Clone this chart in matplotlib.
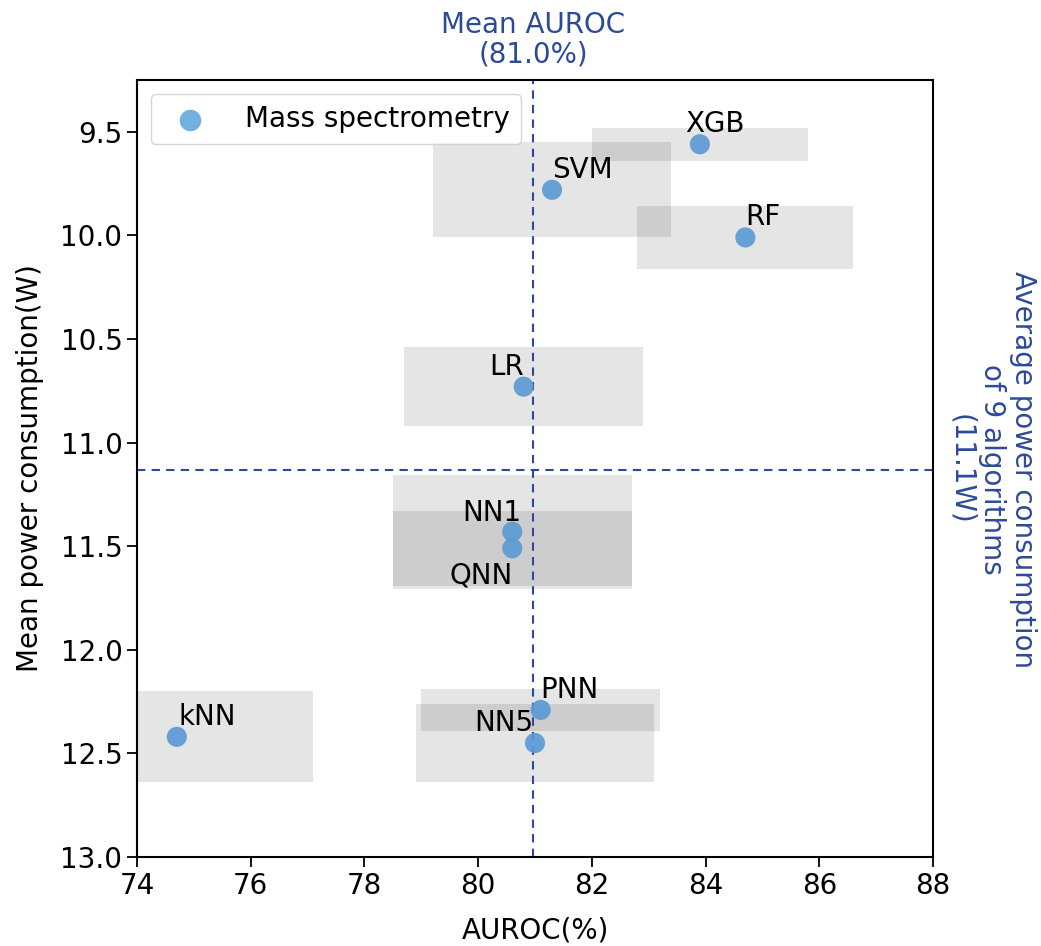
import numpy as np
import matplotlib
matplotlib.use("Agg")
import matplotlib.pyplot as plt
from matplotlib.patches import Rectangle

# values
models = ['XGB', 'SVM', 'RF', 'LR', 'NN1', 'QNN', 'PNN', 'NN5', 'kNN']
auroc = [83.9, 81.3, 84.7, 80.8, 80.6, 80.6, 81.1, 81.0, 74.7]
power = [9.56, 9.78, 10.01, 10.73, 11.43, 11.51, 12.29, 12.45, 12.42]
auroc_err = [1.9, 2.1, 1.9, 2.1, 2.1, 2.1, 2.1, 2.1, 2.4]
power_err = [0.08, 0.23, 0.15, 0.19, 0.275, 0.18, 0.10, 0.19, 0.22]

# label offsets (pixels) and alignment
label_dx = [-15, 0, 0, 0, 9, 0, 0, -2, 2]
label_dy = [12, 12, 12, 12, 11, -13, 12, 12, 12]
label_ha = ['left', 'left', 'left', 'right', 'right', 'right', 'left', 'right', 'left']
label_va = ['baseline'] * 5 + ['top'] + ['baseline'] * 3

blue = '#2c4a9a'
fs = 20

fig = plt.figure(figsize=(10.41, 9.46), dpi=100)
ax = fig.add_axes([137 / 1041, 1 - 857 / 946, 796 / 1041, 777 / 946])

for x, y, ex, ey in zip(auroc, power, auroc_err, power_err):
    ax.add_patch(Rectangle((x - ex, y - ey), 2 * ex, 2 * ey,
                           facecolor='k', alpha=0.1, edgecolor='none', zorder=1))

ax.scatter(auroc, power, s=210, color='#5b9ad4', alpha=0.92, edgecolors='none',
           zorder=3, label='Mass spectrometry')

for i, name in enumerate(models):
    ax.annotate(name, (auroc[i], power[i]),
                xytext=(label_dx[i] * 0.72, label_dy[i] * 0.72),
                textcoords='offset points', ha=label_ha[i], va=label_va[i],
                fontsize=fs, zorder=4)

mean_auroc = np.mean(auroc)
mean_power = np.mean(power)
ax.axvline(mean_auroc, color=blue, ls=(0, (4, 3)), lw=1.5, zorder=2)
ax.axhline(mean_power, color=blue, ls=(0, (4, 3)), lw=1.5, zorder=2)

ax.text(mean_auroc, 1.015, 'Mean AUROC\n(%.1f%%)' % mean_auroc,
        transform=ax.get_xaxis_transform(), ha='center', va='bottom',
        color=blue, fontsize=fs, linespacing=1.05)
ax.text(1.018, mean_power, 'Average power consumption\nof 9 algorithms\n(%.1fW)' % mean_power,
        transform=ax.get_yaxis_transform(), ha='center', va='bottom',
        rotation=-90, rotation_mode='anchor', multialignment='center',
        color=blue, fontsize=fs, linespacing=1.12)

ax.set_xlim(74, 88)
ax.set_ylim(13.0, 9.25)
ax.set_xticks(np.arange(74, 89, 2))
ax.set_yticks(np.arange(9.5, 13.01, 0.5))
ax.tick_params(labelsize=fs, length=7, width=1.3)
for s in ax.spines.values():
    s.set_linewidth(1.5)

ax.set_xlabel('AUROC(%)', fontsize=fs, labelpad=12)
ax.set_ylabel('Mean power consumption(W)', fontsize=fs, labelpad=12)

leg = ax.legend(loc='upper left', fontsize=fs, borderpad=0.4, handletextpad=1.0,
                markerscale=1.0, framealpha=0.8)
leg.legend_handles[0].set_color('#72b0e2')
leg.legend_handles[0].set_alpha(1.0)

fig.savefig('out.png', dpi=100)
